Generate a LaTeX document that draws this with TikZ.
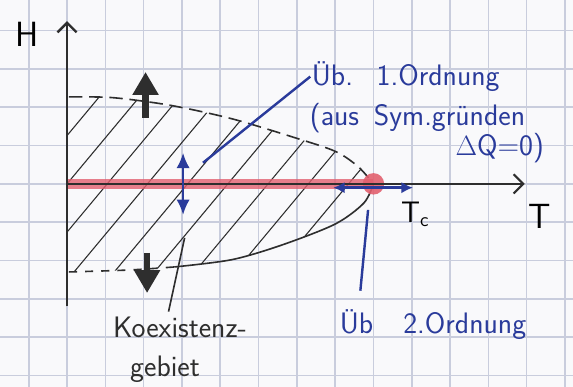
\documentclass[tikz,border=0pt]{standalone}
\usepackage{tikz}
\usetikzlibrary{arrows.meta,calc,positioning}
\definecolor{paper}{HTML}{F9F9FB}
\definecolor{gridblue}{HTML}{C9CDDD}
\definecolor{inkblack}{HTML}{2E2E2E}
\definecolor{inkblue}{HTML}{2A3B9B}
\definecolor{markred}{HTML}{E2606F}

\begin{document}
\begin{tikzpicture}[>=Latex, every node/.style={font=\sffamily\fontsize{22}{26}\selectfont,inner sep=1pt},
  ink/.style={inkblack,line width=1.2pt},
  hatch/.style={inkblack,line width=0.8pt},
  bluenote/.style={text=inkblue,anchor=west},
  blueline/.style={inkblue,line width=1.8pt},
  fatarrow/.style={inkblack,line width=5pt,-{Triangle[length=6mm,width=6.5mm]}}]
  \fill[paper] (-1.75,-5.3) rectangle (13.21,4.8);
  \useasboundingbox (-1.75,-5.3) rectangle (13.21,4.8);
  \draw[gridblue,line width=1.2pt] (-1.75,-5.3) grid (13.21,4.8);

  \coordinate (O) at (0,0);
  \coordinate (Hbeg) at (0,-3.2);
  \coordinate (Hend) at (0,4.25);
  \coordinate (Tend) at (11.95,0);
  \coordinate (crit) at (8.0,0);

  % Koexistenzgebiet, schraffiert
  \begin{scope}
    \clip plot[smooth] coordinates {(0,2.27) (1.2,2.25) (2.7,2.05) (4.3,1.7) (5.9,1.22) (7.0,0.85) (7.6,0.45) (8.0,0)}
      -- plot[smooth] coordinates {(8.0,0) (7.75,-0.5) (7.0,-1.05) (5.6,-1.6) (4.3,-1.98) (2.8,-2.17) (1.6,-2.25) (0,-2.3)} -- cycle;
    \foreach \s in {-1,...,9}
      \draw[hatch] (\s*1.05-2,-2.4) -- ++(4,4.8);
  \end{scope}
  \draw[ink,dash pattern=on 10pt off 5pt] plot[smooth] coordinates {(0.05,2.27) (1.2,2.25) (2.7,2.05) (4.3,1.7) (5.9,1.22) (7.0,0.85) (7.6,0.45) (8.0,0)};
  \draw[ink,dash pattern=on 6pt off 6pt] plot[smooth] coordinates {(0.05,-2.3) (1.6,-2.25) (2.8,-2.17)};
  \draw[ink] plot[smooth] coordinates {(2.8,-2.17) (4.3,-1.98) (5.6,-1.6) (7.0,-1.05) (7.75,-0.5) (8.0,0)};

  \draw[markred,line width=7pt,opacity=0.8] (O) -- (crit);
  \fill[markred,opacity=0.9] (crit) circle (0.28);

  \draw[ink,line width=1.8pt,-{Straight Barb[length=2.5mm,width=5mm]}] (Hbeg) -- (Hend);
  \draw[ink,line width=1.6pt,-{Straight Barb[length=2.5mm,width=5mm]}] (O) -- (Tend);

  \node[font=\sffamily\fontsize{26}{30}\selectfont] (Hlab) at (-1.04,3.9) {H};
  \node[font=\sffamily\fontsize{26}{30}\selectfont] (Tlab) at (12.35,-0.85) {T};
  \node (Tclab) at (9.09,-0.8) {T$_{\mathsf{c}}$};

  \coordinate (upfoot) at (2.05,1.72);
  \coordinate (uphead) at (2.05,2.92);
  \coordinate (downfoot) at (2.09,-1.8);
  \coordinate (downhead) at (2.09,-2.85);
  \draw[fatarrow] (upfoot) -- (uphead);
  \draw[fatarrow] (downfoot) -- (downhead);

  \coordinate (jumptop) at (3.03,0.81);
  \coordinate (jumpbot) at (3.03,-0.81);
  \draw[blueline,{Latex[length=4mm,width=3.5mm]}-{Latex[length=4mm,width=3.5mm]}] (jumptop) -- (jumpbot);
  \coordinate (fluctL) at (6.95,-0.1);
  \coordinate (fluctR) at (9.03,-0.1);
  \draw[blueline,{Latex[length=3mm,width=3mm]}-{Latex[length=3mm,width=3mm]}] (fluctL) -- (fluctR);

  \node[bluenote] (ordn1) at (6.35,2.8) {Üb.\hspace{0.8em}1.Ordnung};
  \node[bluenote] (ordn1b) at (6.3,1.72) {(aus\hspace{0.5em}Sym.gründen};
  \node[bluenote] (ordn1c) at (10.1,0.94) {$\Delta$Q=0)};
  \coordinate (ptfirst) at (3.55,0.55);
  \draw[blueline] (ptfirst) -- (ordn1.west);

  \node[bluenote] (ub2) at (7.08,-3.6) {Üb};
  \node[text=inkblue,base right=0.7cm of ub2] (ord2) {2.Ordnung};
  \coordinate (ptsecond) at (7.86,-0.68);
  \draw[blueline] (ptsecond) -- ($(ub2.north)+(0.1,0.45)$);

  \node[text=inkblack] (koex) at (2.95,-3.75) {Koexistenz-};
  \node[text=inkblack] (gebiet) at (2.56,-4.85) {gebiet};
  \coordinate (ptkoex) at (3.07,-1.41);
  \draw[ink] (ptkoex) -- ($(koex.north)+(-0.3,0.1)$);
\end{tikzpicture}
\end{document}
